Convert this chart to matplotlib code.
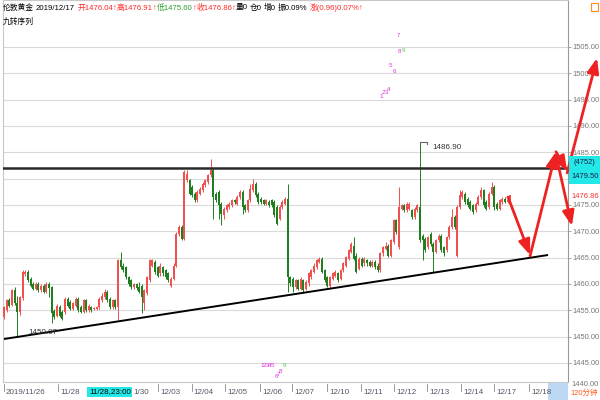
import matplotlib
matplotlib.use("Agg")
import matplotlib.pyplot as plt
from matplotlib.patches import Rectangle
from matplotlib.lines import Line2D
import numpy as np

plt.rcParams['font.family'] = ['Liberation Sans', 'Noto Sans CJK SC', 'DejaVu Sans']

# ---------------- data (120-minute bars, London gold) ----------------
opens = [
    1453.7, 1455.0, 1457.0, 1456.0, 1458.8, 1456.3, 1454.7, 1457.3, 1461.9, 1462.3,
    1461.0, 1460.0, 1459.1, 1460.0, 1458.8, 1459.7, 1458.5, 1460.0, 1459.4, 1454.9,
    1454.0, 1455.6, 1454.7, 1454.7, 1457.2, 1456.6, 1455.3, 1455.9, 1457.2, 1455.6,
    1454.7, 1456.9, 1455.0, 1455.6, 1455.3, 1455.3, 1455.6, 1456.9, 1457.5, 1458.5,
    1457.2, 1455.6, 1456.9, 1455.6, 1464.5, 1463.5, 1463.2, 1461.3, 1460.7, 1459.5, 1459.9, 1459.4,
    1459.7, 1456.3, 1458.2, 1460.7, 1463.5, 1464.2, 1463.2, 1462.0, 1463.2, 1462.6,
    1462.0, 1459.7, 1461.0, 1463.5, 1469.5, 1470.8, 1468.6, 1479.7, 1479.7, 1478.4,
    1477.1, 1475.9, 1477.1, 1477.8, 1478.7, 1479.3, 1480.6, 1481.6, 1477.1, 1477.4,
    1475.2, 1473.0, 1474.0, 1474.6, 1474.9, 1475.9, 1475.2, 1476.5, 1477.4, 1474.9, 1474.0,
    1475.9, 1477.8, 1479.0, 1477.1, 1476.2, 1475.9, 1475.2, 1475.5, 1475.9, 1475.5,
    1474.6, 1472.4, 1474.6, 1475.2, 1476.2, 1461.3, 1461.0, 1459.4, 1460.7, 1459.1,
    1460.7, 1459.1, 1460.1, 1461.3, 1462.3, 1463.2, 1464.2, 1464.8, 1462.6, 1461.3,
    1459.7, 1461.0, 1461.6, 1462.0, 1461.0, 1462.6, 1463.5, 1464.8, 1466.1, 1467.3,
    1465.4, 1462.9, 1464.8, 1463.9, 1464.5, 1464.2, 1463.5, 1464.2, 1463.5, 1462.6,
    1465.8, 1466.7, 1467.3, 1465.4, 1468.0, 1472.1, 1467.0, 1474.3, 1474.9, 1474.0,
    1474.3, 1474.0, 1472.7, 1474.0, 1474.6, 1469.2, 1468.6, 1467.0,
    1469.5, 1467.6, 1466.1, 1468.3, 1469.2, 1467.0, 1466.4, 1468.9, 1470.8, 1472.7,
    1465.4, 1474.6, 1476.5, 1477.1, 1476.2, 1475.5, 1474.9, 1474.0, 1475.2, 1476.5,
    1477.8, 1475.5, 1474.6, 1477.1, 1478.4, 1475.2, 1474.3, 1475.5, 1476.2, 1475.6,
    1476.04,
]
highs = [
    1455.9, 1457.2, 1457.4, 1459.1, 1459.4, 1457.8, 1457.8, 1462.6, 1462.6, 1462.6,
    1461.3, 1460.4, 1460.4, 1460.4, 1460.0, 1460.0, 1460.4, 1460.4, 1459.7, 1455.3,
    1456.2, 1456.0, 1455.0, 1457.5, 1457.5, 1456.9, 1456.6, 1457.5, 1457.5, 1456.0,
    1457.2, 1457.2, 1456.2, 1455.9, 1455.6, 1455.9, 1457.5, 1458.2, 1459.1, 1458.8,
    1457.5, 1457.2, 1457.2, 1464.8, 1466.1, 1463.9, 1463.5, 1461.6, 1461.0, 1460.2, 1460.1, 1460.4,
    1460.0, 1459.1, 1461.6, 1464.8, 1464.8, 1464.5, 1463.5, 1463.9, 1463.5, 1462.9,
    1462.3, 1461.3, 1463.9, 1469.9, 1471.1, 1471.1, 1481.6, 1481.6, 1480.0, 1478.7,
    1477.4, 1477.8, 1478.4, 1479.4, 1480.0, 1480.9, 1483.8, 1482.0, 1477.4, 1477.8,
    1475.5, 1474.6, 1475.2, 1475.5, 1476.2, 1476.2, 1476.8, 1477.8, 1477.8, 1475.2, 1476.2,
    1479.0, 1480.0, 1479.4, 1477.4, 1476.5, 1476.2, 1476.2, 1475.9, 1476.2, 1475.9,
    1474.9, 1474.9, 1475.9, 1476.5, 1479.0, 1461.6, 1461.3, 1461.0, 1461.0, 1461.3,
    1461.0, 1460.7, 1462.3, 1462.9, 1463.9, 1464.8, 1465.1, 1465.1, 1462.9, 1461.6,
    1461.6, 1462.3, 1462.6, 1462.3, 1462.9, 1464.2, 1465.4, 1466.7, 1468.0, 1468.9,
    1465.8, 1465.1, 1465.1, 1465.1, 1464.8, 1464.5, 1464.5, 1464.5, 1463.9, 1466.1,
    1467.3, 1468.0, 1467.6, 1468.6, 1472.4, 1472.4, 1478.4, 1475.2, 1475.2, 1475.5,
    1475.5, 1474.3, 1474.6, 1475.2, 1486.9, 1469.5, 1468.9, 1469.2,
    1469.9, 1468.0, 1468.6, 1469.5, 1469.5, 1467.3, 1469.2, 1471.1, 1474.3, 1473.0,
    1474.9, 1477.8, 1477.8, 1477.4, 1476.5, 1475.9, 1475.2, 1475.5, 1476.8, 1478.4,
    1478.1, 1475.9, 1477.4, 1479.3, 1478.7, 1475.5, 1476.2, 1476.5, 1476.5, 1476.3,
    1476.91,
]
lows = [
    1453.4, 1454.7, 1455.6, 1455.8, 1456.0, 1450.07, 1454.2, 1457.0, 1461.5, 1460.4,
    1459.4, 1458.8, 1458.8, 1458.5, 1458.5, 1458.2, 1458.2, 1457.5, 1452.5, 1453.4,
    1453.7, 1453.7, 1453.1, 1454.3, 1455.6, 1455.0, 1455.0, 1455.6, 1454.7, 1454.4,
    1454.4, 1454.7, 1454.7, 1454.7, 1455.0, 1455.0, 1455.3, 1456.6, 1457.2, 1456.6,
    1455.3, 1455.3, 1455.3, 1453.1, 1462.9, 1462.3, 1461.0, 1459.7, 1459.1, 1459.0, 1458.9, 1458.2,
    1454.4, 1455.0, 1457.9, 1460.4, 1463.2, 1461.9, 1461.3, 1461.6, 1461.6, 1461.0,
    1460.4, 1459.4, 1460.7, 1463.2, 1469.2, 1468.3, 1468.3, 1479.4, 1476.8, 1476.5,
    1475.5, 1475.5, 1476.8, 1477.4, 1478.4, 1479.0, 1480.3, 1472.4, 1475.5, 1472.4,
    1471.1, 1472.4, 1473.7, 1474.3, 1474.6, 1475.2, 1474.9, 1476.2, 1473.3, 1473.7, 1473.7,
    1475.5, 1477.4, 1476.5, 1475.2, 1475.2, 1474.9, 1474.9, 1474.6, 1474.6, 1472.7,
    1471.1, 1472.1, 1474.3, 1474.9, 1458.5, 1459.7, 1458.5, 1459.1, 1458.8, 1458.8,
    1458.2, 1458.8, 1459.7, 1461.0, 1462.0, 1462.9, 1463.9, 1462.0, 1460.4, 1459.4,
    1459.1, 1460.7, 1461.3, 1460.4, 1460.7, 1462.3, 1463.2, 1464.5, 1465.8, 1464.5,
    1462.0, 1462.6, 1463.2, 1463.5, 1463.5, 1463.2, 1463.2, 1462.9, 1462.3, 1462.3,
    1465.4, 1466.4, 1465.1, 1465.1, 1467.6, 1469.5, 1466.7, 1474.0, 1473.7, 1473.7,
    1474.0, 1472.4, 1472.4, 1473.7, 1468.0, 1464.5, 1466.1, 1466.7,
    1467.3, 1462.3, 1465.8, 1468.0, 1466.1, 1465.4, 1466.1, 1468.6, 1470.5, 1470.5,
    1465.1, 1474.3, 1476.2, 1475.2, 1474.6, 1474.0, 1473.3, 1473.7, 1474.9, 1476.2,
    1474.6, 1474.0, 1474.3, 1476.8, 1474.0, 1474.0, 1474.0, 1475.2, 1475.3, 1475.4,
    1475.60,
]
closes = [
    1455.6, 1456.9, 1455.9, 1458.8, 1456.3, 1454.7, 1457.5, 1462.3, 1462.3, 1460.7,
    1459.7, 1459.1, 1460.0, 1458.8, 1459.7, 1458.5, 1460.0, 1459.2, 1454.4, 1453.7,
    1455.9, 1454.0, 1453.4, 1457.2, 1455.9, 1455.3, 1456.3, 1457.2, 1455.0, 1454.7,
    1456.9, 1455.0, 1455.9, 1455.0, 1455.3, 1455.6, 1457.2, 1457.8, 1458.5, 1456.9,
    1455.6, 1456.9, 1455.6, 1464.5, 1463.2, 1462.6, 1461.3, 1460.0, 1459.4, 1459.9, 1459.2, 1458.5,
    1457.5, 1458.8, 1461.3, 1464.5, 1464.5, 1462.3, 1461.6, 1463.5, 1462.0, 1461.3,
    1460.7, 1461.0, 1463.5, 1469.5, 1470.8, 1468.6, 1481.2, 1480.9, 1477.1, 1476.8,
    1475.9, 1477.4, 1478.1, 1479.0, 1479.7, 1480.6, 1481.6, 1476.5, 1475.9, 1474.9,
    1473.3, 1474.3, 1474.9, 1475.2, 1475.9, 1475.5, 1476.5, 1477.4, 1474.6, 1474.0, 1475.9,
    1478.1, 1479.0, 1476.8, 1475.5, 1475.5, 1475.2, 1475.9, 1474.9, 1474.9, 1473.0,
    1471.4, 1474.6, 1475.5, 1476.2, 1461.3, 1460.1, 1459.4, 1460.7, 1459.1, 1461.0,
    1458.8, 1460.4, 1462.0, 1462.6, 1463.5, 1464.5, 1464.8, 1462.3, 1460.7, 1459.7,
    1461.3, 1462.0, 1462.3, 1460.7, 1462.6, 1463.9, 1465.1, 1466.4, 1467.6, 1464.8,
    1462.3, 1464.8, 1463.5, 1464.8, 1463.9, 1463.5, 1464.2, 1463.2, 1462.6, 1465.8,
    1467.0, 1467.3, 1465.4, 1468.3, 1472.1, 1469.9, 1474.6, 1474.9, 1474.0, 1475.2,
    1475.2, 1472.7, 1474.3, 1474.9, 1468.3, 1468.3, 1466.4, 1468.9,
    1467.6, 1466.1, 1468.3, 1469.2, 1466.4, 1465.8, 1468.9, 1470.8, 1472.7, 1470.8,
    1474.6, 1476.8, 1477.4, 1475.5, 1474.9, 1474.3, 1473.7, 1475.2, 1476.5, 1477.8,
    1474.9, 1474.3, 1477.1, 1478.4, 1474.6, 1474.3, 1475.9, 1476.2, 1475.6, 1476.0,
    1476.86,
]

price_ticks = [1445, 1450, 1455, 1460, 1465, 1470, 1475, 1480, 1485, 1490, 1495, 1500, 1505]
hidden_tick = 1480  # covered by the cyan cursor box
date_labels = ["2019/11/26", "11/28", "12/03", "12/04", "12/05", "12/06", "12/07",
               "12/10", "12/11", "12/12", "12/13", "12/14", "12/17", "12/18"]
date_pos = [0, 20.4, 58.1, 70.9, 83.4, 96.6, 108.7, 121.9, 134.7, 147.2, 159.6, 172.5, 184.9, 198.1]
partial_label = "1/30"      # visible part of 11/30 next to the cursor box
cursor_label = "11/28,23:00"

resistance = 1482.11
support_x = [0.0, 205.3]
support_y = [1449.55, 1465.5]
high_mark_x = 157
high_mark_y = 1486.90

# forecast arrows (bar index, price)
arrow_x0 = [190.2, 198.5, 208.3, 212.5, 208.3]
arrow_y0 = [1476.5, 1465.3, 1485.1, 1481.1, 1484.5]
arrow_x1 = [198.5, 208.3, 212.5, 223.8, 214.3]
arrow_y1 = [1465.5, 1485.1, 1481.4, 1502.9, 1471.0]

# TD (九转) counts
td_top_txt = ["1", "2", "3", "4", "5", "6", "7", "8", "9"]
td_top_x = [142.3, 143.2, 144.2, 145.3, 146.0, 147.2, 148.7, 149.4, 150.6]
td_top_y = [1495.5, 1496.3, 1496.3, 1497.0, 1501.4, 1500.4, 1507.2, 1504.2, 1504.4]
td_bot_txt = ["1", "2", "3", "4", "5", "6", "7", "8", "9"]
td_bot_x = [97.3, 98.3, 99.3, 100.3, 101.3, 102.8, 103.6, 104.4, 106.0]
td_bot_y = [1444.6, 1444.6, 1444.6, 1444.6, 1444.6, 1442.5, 1442.8, 1443.4, 1444.6]

# ---------------- figure ----------------
W, H = 600, 400
RED = '#f05050'
GREEN = '#1f7f1f'
FS = 5.8
FS_R = 5.4
fig = plt.figure(figsize=(6, 4), dpi=100)
fig.patch.set_facecolor('white')

AX_L, AX_R, AX_T, AX_B = 3, 568, 0, 382
ax = fig.add_axes([AX_L / W, 1 - AX_B / H, (AX_R - AX_L) / W, (AX_B - AX_T) / H])
ax.set_facecolor('white')

PX_PER_BAR = 2.65
X0_PX = 4.0
PPX = 5.267


def px2idx(px):
    return (px - X0_PX) / PX_PER_BAR


def py2price(py):
    return 1440.0 + (389.3 - py) / PPX


ax.set_xlim(px2idx(AX_L), px2idx(AX_R))
ax.set_ylim(py2price(AX_B), py2price(AX_T))

o = np.array(opens); h = np.array(highs); l = np.array(lows); c = np.array(closes)
x = np.arange(len(c))
up = c >= o
cols = np.where(up, RED, GREEN)

for p in price_ticks:
    ax.axhline(p, color='#dadada', lw=0.8, zorder=1)

ax.vlines(x, l, h, colors=cols, linewidth=0.7, zorder=3)
ax.bar(x, np.maximum(np.abs(c - o), 0.12), bottom=np.minimum(o, c), width=0.75,
       color=cols, linewidth=0, zorder=4)

ax.axhline(resistance, color='#2a2a2a', lw=1.8, zorder=5)
ax.plot(support_x, support_y, color='black', lw=1.4, zorder=5, solid_capstyle='butt')

for xs, ys, xe, ye in zip(arrow_x0, arrow_y0, arrow_x1, arrow_y1):
    ax.annotate('', xy=(xe, ye), xytext=(xs, ys), annotation_clip=False,
                arrowprops=dict(arrowstyle='-|>,head_length=0.9,head_width=0.35', color='#ee2222',
                                lw=2.0, shrinkA=0, shrinkB=0, clip_on=False), zorder=6)

# labels on chart
ax.annotate('1482.11', xy=(px2idx(2), resistance), xytext=(0, -2.5), textcoords='offset points',
            fontsize=FS, color='#333333', va='top', ha='left', zorder=7)
ax.text(px2idx(28), py2price(333), '1450.07', fontsize=FS, color='#333333', va='center', ha='left', zorder=7)
ax.plot([high_mark_x, high_mark_x + 2.6], [high_mark_y, high_mark_y], color='#666666', lw=0.8, zorder=6)
ax.plot([high_mark_x + 2.6, high_mark_x + 2.6], [high_mark_y, high_mark_y - 0.3], color='#666666', lw=0.8, zorder=6)
ax.text(px2idx(432), high_mark_y - 0.9, f'{high_mark_y:.2f}', fontsize=FS, color='#333333',
        va='center', ha='left', zorder=7)

for t, xx, yy in zip(td_top_txt, td_top_x, td_top_y):
    ax.text(xx, yy, t, fontsize=4.5, color=('#44cc44' if t == '9' else '#dd33dd'),
            ha='center', va='center', zorder=7)
for t, xx, yy in zip(td_bot_txt, td_bot_x, td_bot_y):
    ax.text(xx, yy, t, fontsize=4.5, color=('#44cc44' if t == '9' else '#dd33dd'),
            ha='center', va='center', zorder=7)

# axes styling
ax.set_xticks([])
ax.yaxis.tick_right()
ax.set_yticks(price_ticks)
ax.set_yticklabels(['' if p == hidden_tick else f'{p:.2f}' for p in price_ticks])
ax.tick_params(axis='y', length=2.5, width=0.6, color='#999999', labelsize=FS_R,
               labelcolor='#777777', pad=0.6)
for s in ['left', 'top', 'bottom']:
    ax.spines[s].set_color('#c8c8c8')
    ax.spines[s].set_linewidth(0.8)
ax.spines['right'].set_color('#999999')
ax.spines['right'].set_linewidth(0.8)


def fx(px):
    return px / W


def fy(py):
    return 1 - py / H


# right side labels / boxes
fig.text(fx(571), fy(384), '1440.00', fontsize=FS_R, color='#777777', va='center', ha='left')
fig.patches.append(Rectangle((fx(569), fy(184)), fx(31), 28 / H, transform=fig.transFigure,
                             facecolor='#22e8e8', edgecolor='none', zorder=5))
fig.text(fx(573), fy(163), '(4752)', fontsize=FS_R, color='#1a1a4a', va='center', ha='left', zorder=6)
fig.text(fx(571), fy(177), '1479.50', fontsize=FS_R, color='#1a1a4a', va='center', ha='left', zorder=6)
fig.text(fx(571), fy(197), '1476.86', fontsize=FS_R, color='#ff3030', va='center', ha='left', zorder=6)

# bottom time strip
fig.patches.append(Rectangle((fx(548), fy(400)), fx(20), 17 / H, transform=fig.transFigure,
                             facecolor='#bcd8f2', edgecolor='none', zorder=2))
for lab, pos in zip(date_labels, date_pos):
    pxp = X0_PX + pos * PX_PER_BAR
    fig.add_artist(Line2D([fx(pxp), fx(pxp)], [fy(384), fy(391)], color='#888888', lw=0.6))
    fig.text(fx(pxp + 2), fy(392), lab, fontsize=FS, color='#555566', va='center', ha='left', zorder=3)
fig.text(fx(89), fy(392), cursor_label, fontsize=FS, color='black', va='center', ha='left', zorder=6,
         bbox=dict(boxstyle='square,pad=0.2', facecolor='#22e8e8', edgecolor='none'))
fig.text(fx(133), fy(392), partial_label, fontsize=FS, color='#555566', va='center', ha='left', zorder=3)
fig.text(fx(570), fy(393), '120分钟', fontsize=FS_R, color='#ff5a1e', va='center', ha='left', zorder=6)

# header
fig.patches.append(Rectangle((fx(591), fy(11)), fx(7), 8 / H, transform=fig.transFigure,
                             facecolor='none', edgecolor='#ff8c1a', lw=0.8, zorder=6))
fig.canvas.draw()
renderer = fig.canvas.get_renderer()
header = [("伦敦黄金", 'black', 2), ("2019/12/17", 'black', 2), ("开1476.04", '#ff2a2a', 0),
          ("↑", '#ff2a2a', 0), ("高1476.91", '#ff2a2a', 0), ("↑", '#ff2a2a', 0),
          ("低1475.60", '#2ca02c', 0), ("↑", '#ff2a2a', 0), ("收1476.86", '#ff2a2a', 0),
          ("↑", '#ff2a2a', 0), ("量0", 'black', 2), ("仓0", 'black', 2), ("增0", 'black', 2),
          ("振0.09%", 'black', 2), ("涨(0.96)0.07%", '#ff2a2a', 0), ("↑", '#ff2a2a', 0)]
xp = 3
for txt, colr, gap in header:
    t = fig.text(fx(xp), fy(8), txt, fontsize=5.6, color=colr, va='center', ha='left', zorder=6)
    bb = t.get_window_extent(renderer=renderer)
    xp += bb.width + gap
fig.text(fx(3), fy(22), '九转序列', fontsize=5.6, color='black', va='center', ha='left', zorder=6)

fig.savefig('out.png', dpi=100, facecolor='white')
